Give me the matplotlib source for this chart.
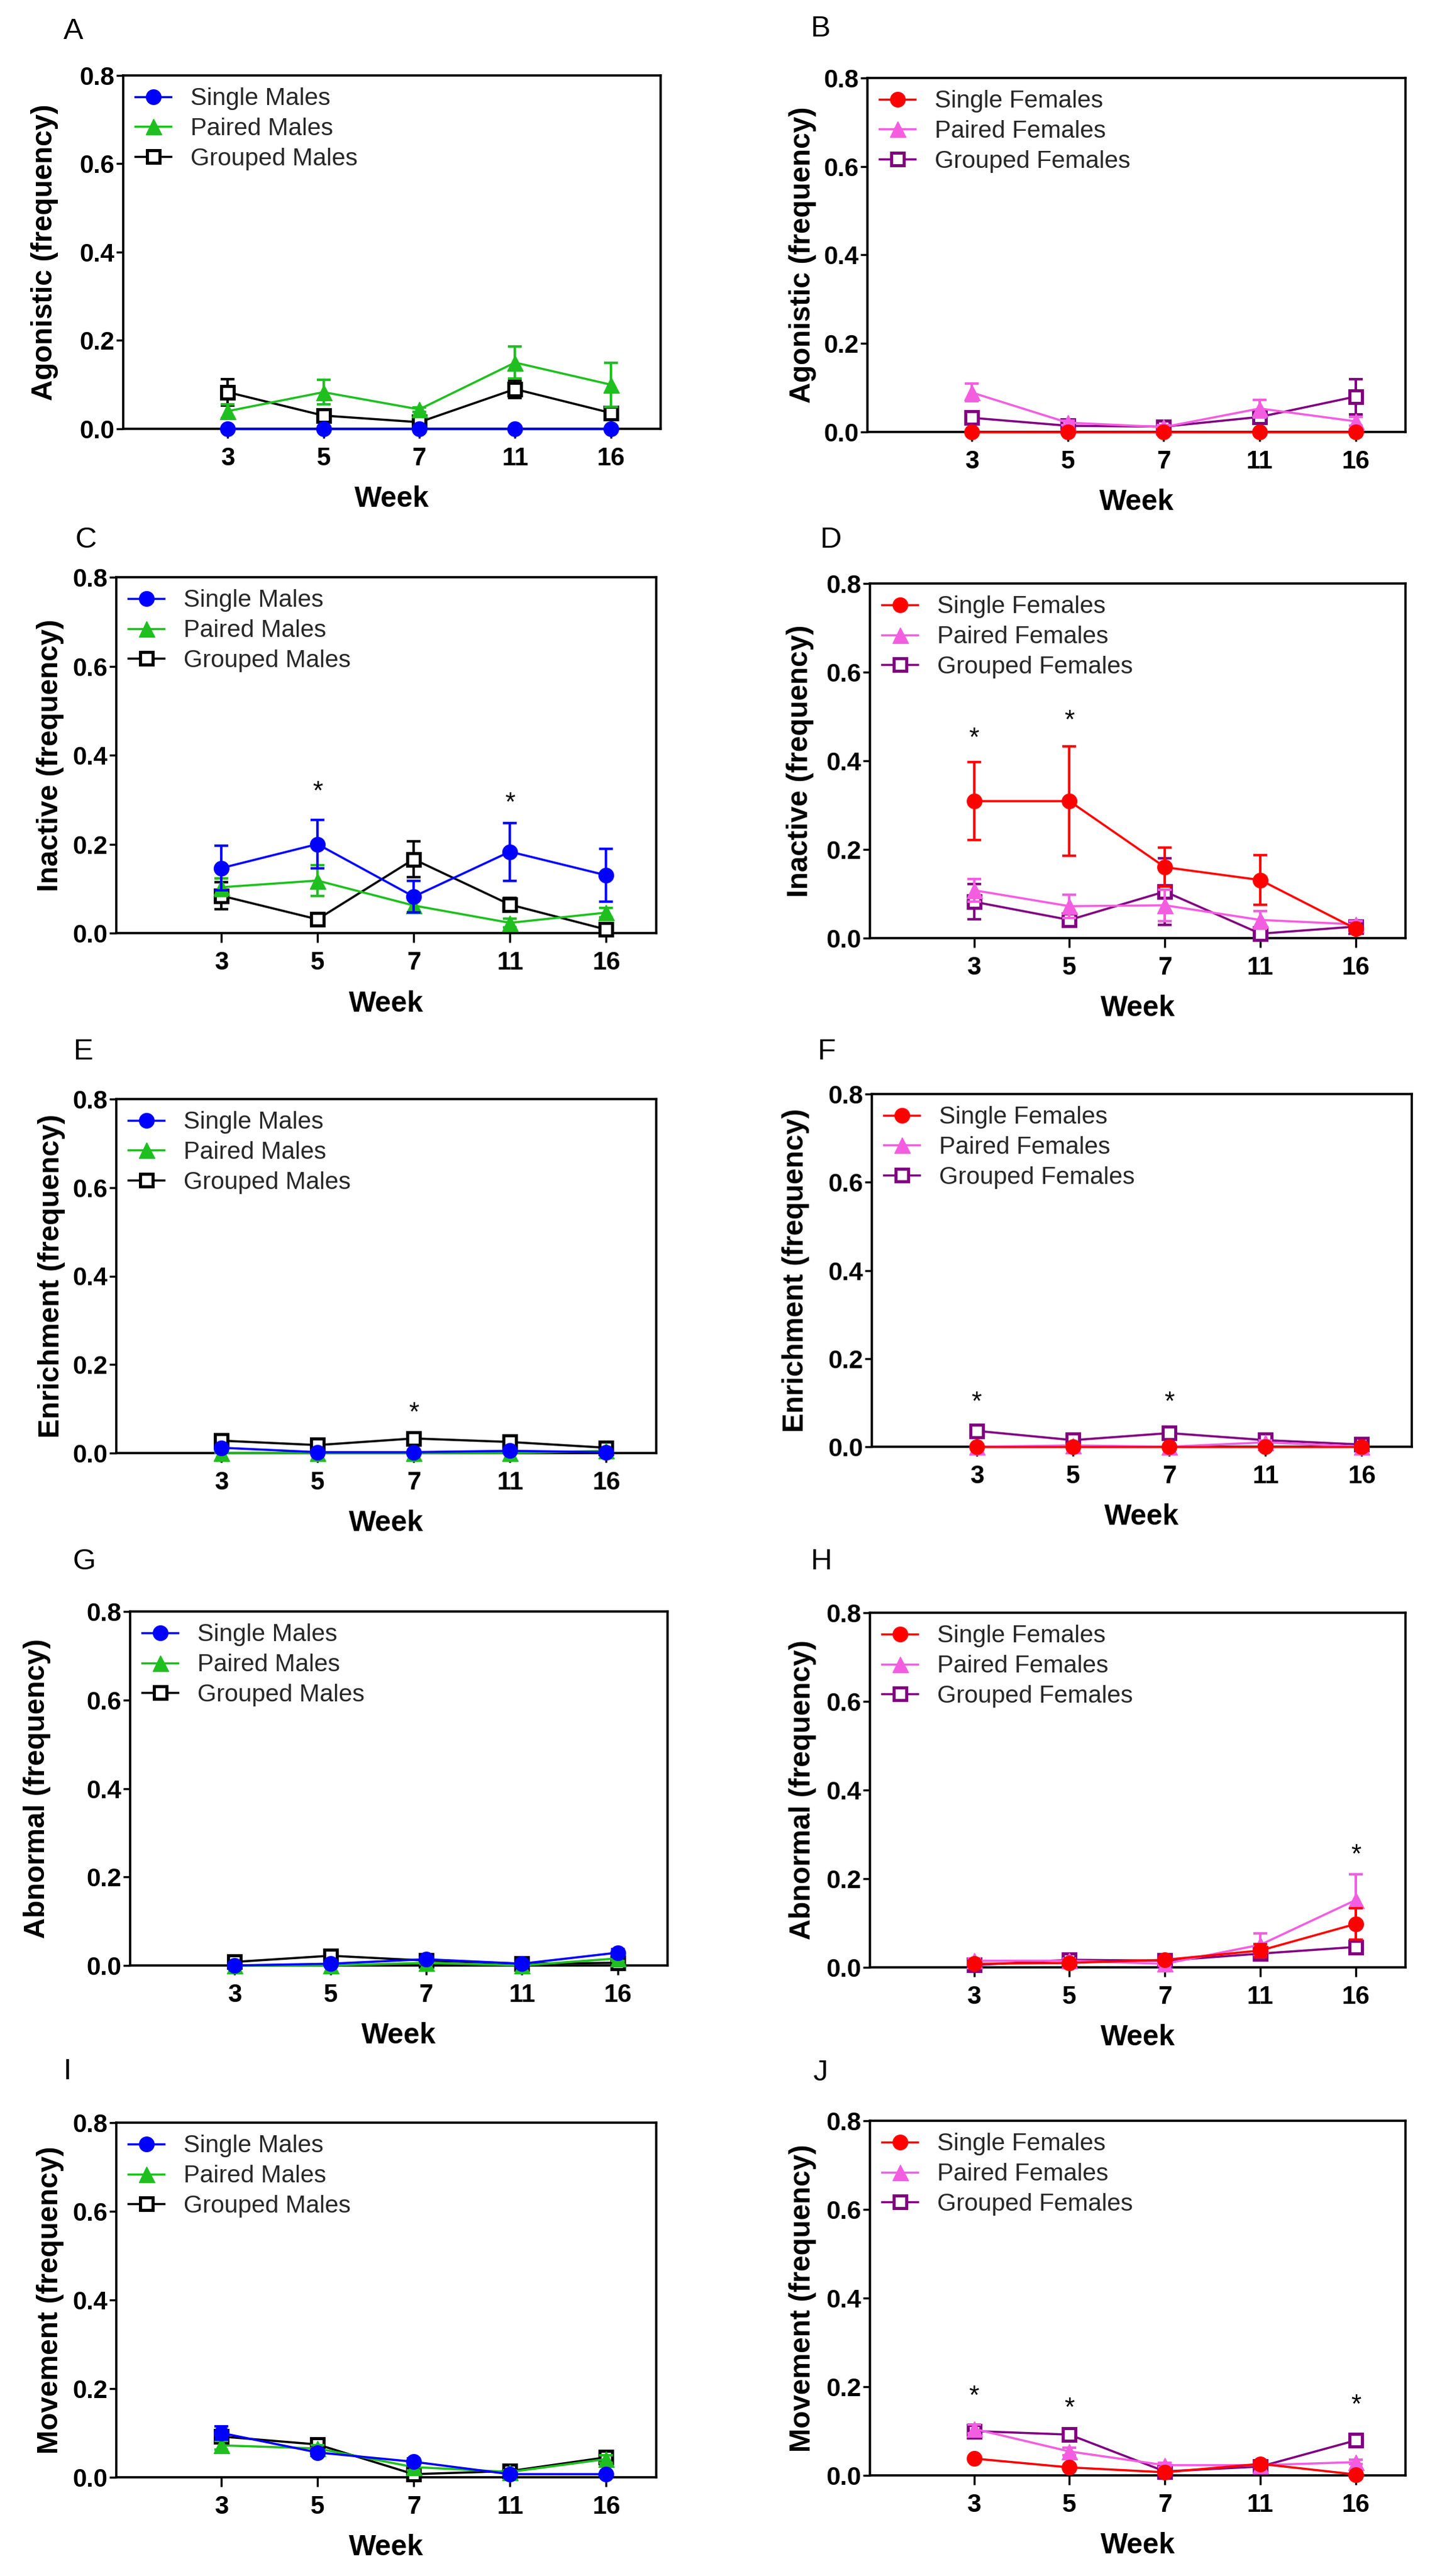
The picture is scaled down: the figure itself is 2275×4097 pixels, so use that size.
import numpy as np
import matplotlib.pyplot as plt

plt.rcParams['font.family'] = ['Liberation Sans', 'DejaVu Sans']

weeks = ["3", "5", "7", "11", "16"]

# mean frequency and SEM (single, paired, grouped)
agon_single_m = [0.0, 0.0, 0.0, 0.0, 0.0]
agon_single_m_se = [0.0, 0.0, 0.0, 0.0, 0.0]
agon_paired_m = [0.040, 0.083, 0.044, 0.150, 0.100]
agon_paired_m_se = [0.016, 0.028, 0.005, 0.036, 0.050]
agon_grouped_m = [0.083, 0.030, 0.015, 0.090, 0.036]
agon_grouped_m_se = [0.030, 0.010, 0.005, 0.020, 0.010]

agon_single_f = [0.0, 0.0, 0.0, 0.0, 0.0]
agon_single_f_se = [0.0, 0.0, 0.0, 0.0, 0.0]
agon_paired_f = [0.089, 0.021, 0.011, 0.053, 0.024]
agon_paired_f_se = [0.020, 0.005, 0.004, 0.020, 0.010]
agon_grouped_f = [0.032, 0.014, 0.012, 0.034, 0.080]
agon_grouped_f_se = [0.010, 0.005, 0.005, 0.015, 0.040]

inact_single_m = [0.146, 0.200, 0.082, 0.183, 0.130]
inact_single_m_se = [0.050, 0.054, 0.035, 0.065, 0.060]
inact_paired_m = [0.103, 0.118, 0.062, 0.023, 0.046]
inact_paired_m_se = [0.020, 0.035, 0.015, 0.010, 0.010]
inact_grouped_m = [0.084, 0.031, 0.166, 0.064, 0.008]
inact_grouped_m_se = [0.030, 0.008, 0.040, 0.015, 0.005]

inact_single_f = [0.309, 0.309, 0.160, 0.131, 0.021]
inact_single_f_se = [0.088, 0.123, 0.044, 0.056, 0.008]
inact_paired_f = [0.108, 0.072, 0.074, 0.041, 0.031]
inact_paired_f_se = [0.026, 0.026, 0.035, 0.020, 0.008]
inact_grouped_f = [0.082, 0.041, 0.105, 0.010, 0.026]
inact_grouped_f_se = [0.040, 0.010, 0.075, 0.008, 0.008]

enr_single_m = [0.012, 0.002, 0.002, 0.005, 0.002]
enr_single_m_se = [0.003, 0.002, 0.002, 0.002, 0.002]
enr_paired_m = [0.0, 0.0, 0.0, 0.0, 0.005]
enr_paired_m_se = [0.0, 0.0, 0.0, 0.0, 0.002]
enr_grouped_m = [0.028, 0.018, 0.033, 0.025, 0.012]
enr_grouped_m_se = [0.005, 0.005, 0.005, 0.005, 0.004]

enr_single_f = [0.0, 0.0, 0.0, 0.0, 0.0]
enr_single_f_se = [0.0, 0.0, 0.0, 0.0, 0.0]
enr_paired_f = [0.0, 0.003, 0.0, 0.010, 0.0]
enr_paired_f_se = [0.0, 0.002, 0.0, 0.004, 0.0]
enr_grouped_f = [0.036, 0.015, 0.031, 0.015, 0.005]
enr_grouped_f_se = [0.005, 0.004, 0.005, 0.004, 0.003]

abn_single_m = [0.0, 0.004, 0.014, 0.004, 0.029]
abn_single_m_se = [0.0, 0.003, 0.004, 0.002, 0.008]
abn_paired_m = [0.0, 0.0, 0.006, 0.0, 0.016]
abn_paired_m_se = [0.0, 0.0, 0.003, 0.0, 0.006]
abn_grouped_m = [0.008, 0.022, 0.011, 0.004, 0.006]
abn_grouped_m_se = [0.003, 0.005, 0.004, 0.002, 0.003]

abn_single_f = [0.008, 0.010, 0.017, 0.038, 0.098]
abn_single_f_se = [0.004, 0.004, 0.005, 0.015, 0.035]
abn_paired_f = [0.015, 0.015, 0.008, 0.051, 0.152]
abn_paired_f_se = [0.005, 0.005, 0.004, 0.025, 0.058]
abn_grouped_f = [0.005, 0.017, 0.015, 0.031, 0.046]
abn_grouped_f_se = [0.003, 0.005, 0.005, 0.010, 0.008]

mov_single_m = [0.100, 0.056, 0.035, 0.007, 0.007]
mov_single_m_se = [0.015, 0.008, 0.008, 0.003, 0.003]
mov_paired_m = [0.072, 0.065, 0.023, 0.012, 0.041]
mov_paired_m_se = [0.010, 0.008, 0.008, 0.004, 0.008]
mov_grouped_m = [0.092, 0.074, 0.007, 0.014, 0.045]
mov_grouped_m_se = [0.012, 0.008, 0.004, 0.004, 0.008]

mov_single_f = [0.038, 0.018, 0.007, 0.026, 0.002]
mov_single_f_se = [0.005, 0.004, 0.003, 0.005, 0.002]
mov_paired_f = [0.105, 0.054, 0.023, 0.023, 0.030]
mov_paired_f_se = [0.010, 0.008, 0.005, 0.005, 0.005]
mov_grouped_f = [0.100, 0.092, 0.009, 0.020, 0.079]
mov_grouped_f_se = [0.015, 0.010, 0.004, 0.005, 0.015]

# significance stars: (week index, height)
stars_c = [(1, 0.316), (3, 0.291)]
stars_d = [(0, 0.450), (1, 0.490)]
stars_e = [(2, 0.090)]
stars_f = [(0, 0.100), (2, 0.100)]
stars_h = [(4, 0.252)]
stars_j = [(0, 0.177), (1, 0.151), (4, 0.157)]

male_labels = ["Single Males", "Paired Males", "Grouped Males"]
female_labels = ["Single Females", "Paired Females", "Grouped Females"]
male_colors = ["#0000ff", "#1fbf1f", "#000000"]
female_colors = ["#ff0000", "#f35ee0", "#800080"]

W, H = 2275, 4097
fig = plt.figure(figsize=(W / 100, H / 100), dpi=100)


def px_rect(x0, y0, x1, y1):
    return [x0 / W, 1 - y1 / H, (x1 - x0) / W, (y1 - y0) / H]


def draw_panel(box, letter, letter_xy, ylabel, ylab_center, labels, colors,
               means, ses, stars):
    ax = fig.add_axes(px_rect(*box))
    x = np.arange(len(weeks))
    markers = ["o", "^", "s"]
    sizes = [17, 18, 14.5]
    handles = [None, None, None]
    # grouped drawn first, single on top
    for k in [2, 1, 0]:
        col = colors[k]
        z = 3 + (2 - k) * 2
        ax.errorbar(x, means[k], yerr=ses[k], fmt="none", ecolor=col,
                    elinewidth=2.8, capsize=8, capthick=2.8, zorder=z,
                    clip_on=False)
        face = "white" if k == 2 else col
        mew = 3.5 if k == 2 else 1
        (h,) = ax.plot(x, means[k], color=col, lw=2.5, marker=markers[k],
                       ms=sizes[k], mfc=face, mec=col, mew=mew,
                       label=labels[k], zorder=z + 1, clip_on=False)
        handles[k] = h

    for i, yv in stars:
        ax.text(i, yv, "*", ha="center", va="center", fontsize=30)

    ax.set_xlim(-1.09, 4.52)
    ax.set_ylim(0, 0.8)
    ax.set_xticks(x, weeks)
    ax.set_yticks([0, 0.2, 0.4, 0.6, 0.8], ["0.0", "0.2", "0.4", "0.6", "0.8"])
    ax.tick_params(axis="y", length=8, width=2.4, pad=2, labelsize=29)
    ax.tick_params(axis="x", length=11, width=2.4, pad=9, labelsize=29)
    for t in ax.get_xticklabels() + ax.get_yticklabels():
        t.set_fontweight("bold")
    for sp in ax.spines.values():
        sp.set_linewidth(2.6)

    ax.set_xlabel("Week", fontsize=33, fontweight="bold")
    ax.xaxis.set_label_coords(0.5, -0.16)
    ax.set_ylabel(ylabel, fontsize=33, fontweight="bold")
    box_w = box[2] - box[0]
    ax.yaxis.set_label_coords((ylab_center + 24 - box[0]) / box_w, 0.5)

    ax.legend(handles=handles, loc="upper left", bbox_to_anchor=(0, 1),
              frameon=False, fontsize=28, handlelength=1.45,
              handletextpad=0.8, labelspacing=0.3, borderpad=0.3,
              borderaxespad=0.2, labelcolor="#262626")

    fig.text(letter_xy[0] / W, 1 - letter_xy[1] / H, letter, fontsize=34,
             ha="left", va="center")
    return ax


draw_panel((196, 120, 1051, 682), "A", (101, 50), "Agonistic (frequency)", 69,
           male_labels, male_colors,
           [agon_single_m, agon_paired_m, agon_grouped_m],
           [agon_single_m_se, agon_paired_m_se, agon_grouped_m_se], [])
draw_panel((1380, 124, 2236, 687), "B", (1289, 46), "Agonistic (frequency)", 1275,
           female_labels, female_colors,
           [agon_single_f, agon_paired_f, agon_grouped_f],
           [agon_single_f_se, agon_paired_f_se, agon_grouped_f_se], [])
draw_panel((185, 918, 1044, 1484), "C", (120, 859), "Inactive (frequency)", 78,
           male_labels, male_colors,
           [inact_single_m, inact_paired_m, inact_grouped_m],
           [inact_single_m_se, inact_paired_m_se, inact_grouped_m_se], stars_c)
draw_panel((1384, 928, 2236, 1492), "D", (1304, 859), "Inactive (frequency)", 1271,
           female_labels, female_colors,
           [inact_single_f, inact_paired_f, inact_grouped_f],
           [inact_single_f_se, inact_paired_f_se, inact_grouped_f_se], stars_d)
draw_panel((185, 1748, 1044, 2311), "E", (116, 1673), "Enrichment (frequency)", 80,
           male_labels, male_colors,
           [enr_single_m, enr_paired_m, enr_grouped_m],
           [enr_single_m_se, enr_paired_m_se, enr_grouped_m_se], stars_e)
draw_panel((1387, 1740, 2246, 2301), "F", (1300, 1673), "Enrichment (frequency)", 1264,
           female_labels, female_colors,
           [enr_single_f, enr_paired_f, enr_grouped_f],
           [enr_single_f_se, enr_paired_f_se, enr_grouped_f_se], stars_f)
draw_panel((207, 2563, 1062, 3126), "G", (116, 2484), "Abnormal (frequency)", 57,
           male_labels, male_colors,
           [abn_single_m, abn_paired_m, abn_grouped_m],
           [abn_single_m_se, abn_paired_m_se, abn_grouped_m_se], [])
draw_panel((1384, 2565, 2236, 3129), "H", (1289, 2484), "Abnormal (frequency)", 1275,
           female_labels, female_colors,
           [abn_single_f, abn_paired_f, abn_grouped_f],
           [abn_single_f_se, abn_paired_f_se, abn_grouped_f_se], stars_h)
draw_panel((185, 3376, 1044, 3940), "I", (101, 3295), "Movement (frequency)", 78,
           male_labels, male_colors,
           [mov_single_m, mov_paired_m, mov_grouped_m],
           [mov_single_m_se, mov_paired_m_se, mov_grouped_m_se], [])
draw_panel((1384, 3373, 2236, 3937), "J", (1293, 3297), "Movement (frequency)", 1275,
           female_labels, female_colors,
           [mov_single_f, mov_paired_f, mov_grouped_f],
           [mov_single_f_se, mov_paired_f_se, mov_grouped_f_se], stars_j)

fig.savefig("out.png", dpi=100)
